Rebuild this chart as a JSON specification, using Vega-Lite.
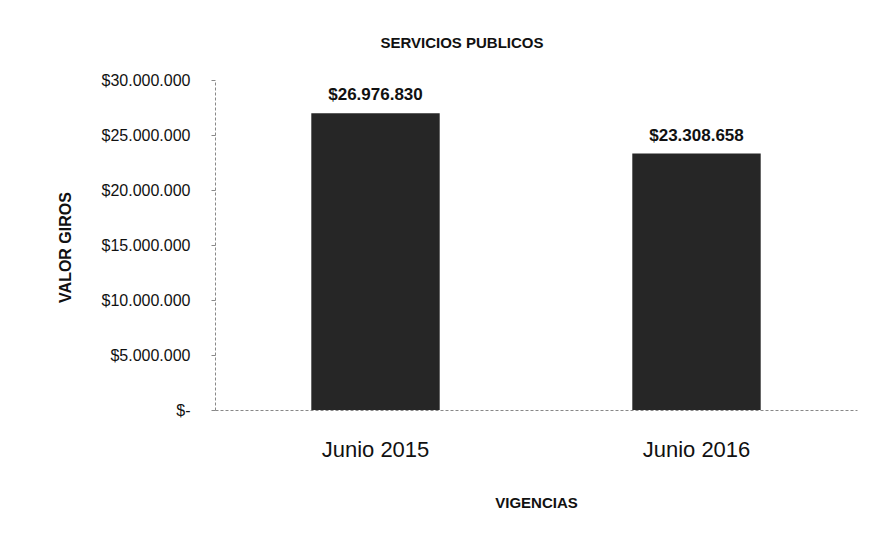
{
  "$schema": "https://vega.github.io/schema/vega-lite/v6.json",
  "width": 642,
  "height": 330,
  "autosize": {"type": "none"},
  "padding": {"left": 215, "top": 80, "right": 19, "bottom": 134},
  "background": "white",
  "config": {
    "font": "Liberation Sans",
    "view": {"stroke": null},
    "locale": {"number": {"decimal": ",", "thousands": ".", "grouping": [3], "currency": ["$", ""]}}
  },
  "title": {
    "text": "SERVICIOS PUBLICOS",
    "anchor": "middle",
    "frame": "group",
    "dx": -74,
    "offset": 9,
    "baseline": "alphabetic",
    "fontSize": 15,
    "fontWeight": "bold",
    "color": "#111"
  },
  "data": {
    "values": [
      {"vigencia": "Junio 2015", "valor": 26976830},
      {"vigencia": "Junio 2016", "valor": 23308658}
    ]
  },
  "encoding": {
    "x": {
      "field": "vigencia",
      "type": "nominal",
      "sort": null,
      "scale": {"paddingInner": 0, "paddingOuter": 0},
      "axis": {
        "title": "VIGENCIAS",
        "titleFontSize": 15,
        "titleFontWeight": "bold",
        "titleColor": "#111",
        "titleBaseline": "alphabetic",
        "titleY": 97,
        "labelAngle": 0,
        "labelFontSize": 22,
        "labelColor": "#111",
        "labelPadding": 29,
        "labelBaseline": "top",
        "ticks": false,
        "domainColor": "#888",
        "domainDash": [3, 2]
      }
    },
    "y": {
      "field": "valor",
      "type": "quantitative",
      "scale": {"domain": [0, 30000000], "nice": false},
      "axis": {
        "title": "VALOR GIROS",
        "titleFontSize": 16,
        "titleFontWeight": "bold",
        "titleColor": "#111",
        "titleBaseline": "alphabetic",
        "titleX": -145,
        "titleY": 167,
        "titleAngle": -90,
        "values": [0, 5000000, 10000000, 15000000, 20000000, 25000000, 30000000],
        "format": "$,.0f",
        "labelExpr": "datum.value == 0 ? '$-\u00a0\u00a0' : datum.label",
        "labelFontSize": 16,
        "labelColor": "#111",
        "labelPadding": 21,
        "tickSize": 4,
        "tickColor": "#888",
        "grid": false,
        "domainColor": "#888",
        "domainDash": [3, 2]
      }
    }
  },
  "layer": [
    {
      "mark": {"type": "bar", "width": {"band": 0.4}, "color": "#262626"}
    },
    {
      "mark": {"type": "text", "dy": -13, "baseline": "alphabetic", "fontSize": 17, "fontWeight": "bold", "color": "#111"},
      "encoding": {
        "text": {"field": "valor", "type": "quantitative", "format": "$,.0f"}
      }
    }
  ]
}
